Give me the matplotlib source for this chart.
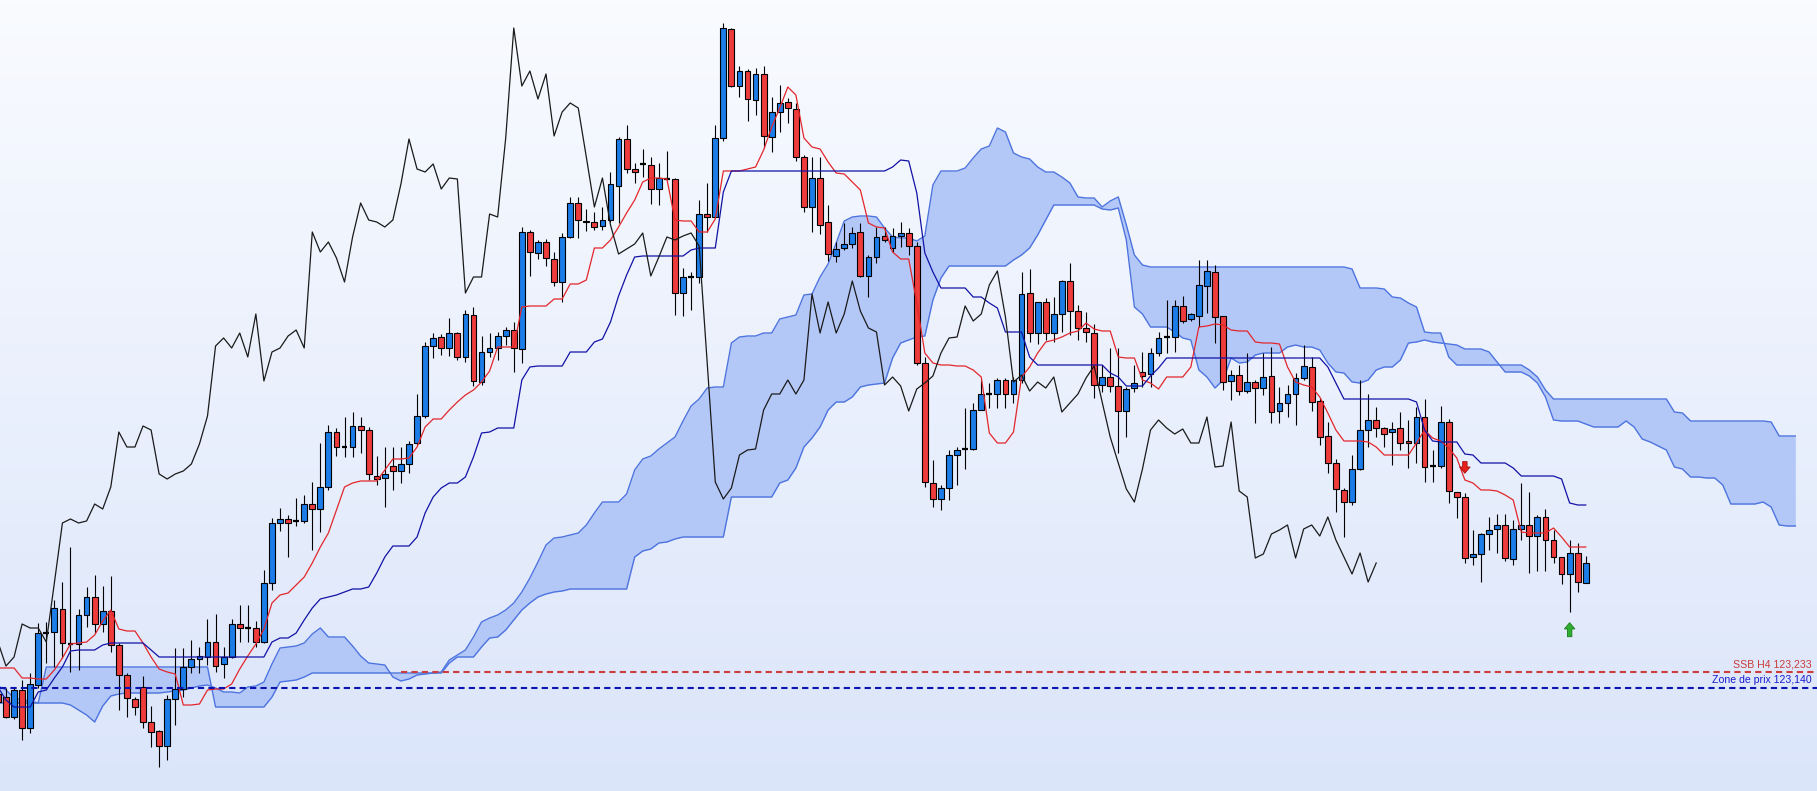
import numpy as np
import matplotlib
matplotlib.use("Agg")
import matplotlib.pyplot as plt
from matplotlib import transforms

# H4 candles (price)
opens = [
    123.101, 123.083, 122.963, 123.125, 122.897, 123.155, 123.467, 123.473, 123.611, 123.401,
    123.401, 123.575, 123.683, 123.521, 123.599, 123.395, 123.215, 123.071, 123.143, 122.933,
    122.879, 122.789, 123.071, 123.131, 123.263, 123.311, 123.323, 123.413, 123.281, 123.323,
    123.521, 123.497, 123.497, 123.413, 123.767, 124.127, 124.151, 124.139, 124.139, 124.241,
    124.211, 124.343, 124.673, 124.583, 124.583, 124.709, 124.685, 124.409, 124.397, 124.469,
    124.439, 124.481, 124.607, 124.769, 125.189, 125.243, 125.177, 125.267, 125.123, 125.375,
    124.973, 125.153, 125.177, 125.249, 125.285, 125.171, 125.873, 125.747, 125.813, 125.711,
    125.573, 125.843, 126.047, 125.939, 125.933, 125.909, 125.945, 126.149, 126.431, 126.251,
    126.281, 126.275, 126.131, 126.191, 126.191, 125.507, 125.603, 125.603, 125.981, 125.963,
    126.437, 127.091, 126.749, 126.839, 126.665, 126.821, 126.443, 126.593, 126.653, 126.611,
    126.323, 126.023, 126.197, 125.933, 125.729, 125.777, 125.801, 125.873, 125.609, 125.723,
    125.849, 125.777, 125.849, 125.867, 125.789, 125.087, 124.367, 124.271, 124.337, 124.535,
    124.571, 124.571, 124.805, 124.901, 124.901, 124.985, 124.901, 124.985, 125.507, 125.267,
    125.453, 125.267, 125.381, 125.579, 125.399, 125.297, 125.267, 124.955, 125.003, 124.949,
    124.799, 124.937, 125.033, 125.021, 125.147, 125.243, 125.243, 125.429, 125.351, 125.369,
    125.549, 125.633, 125.369, 124.979, 125.015, 124.919, 124.973, 124.937, 125.009, 124.799,
    124.847, 124.901, 124.997, 125.063, 124.859, 124.649, 124.487, 124.325, 124.253, 124.451,
    124.685, 124.745, 124.697, 124.673, 124.697, 124.619, 124.607, 124.763, 124.469, 124.469,
    124.733, 124.313, 124.283, 123.923, 123.941, 124.061, 124.091, 124.115, 123.911, 124.091,
    124.115, 124.049, 124.163, 124.025, 123.923, 123.821, 123.947, 123.767,
]
highs = [
    123.125, 123.137, 123.143, 123.185, 123.227, 123.527, 123.533, 123.665, 123.773, 123.983,
    123.611, 123.743, 123.815, 123.749, 123.809, 123.407, 123.227, 123.083, 123.209, 123.029,
    122.885, 123.095, 123.377, 123.377, 123.425, 123.383, 123.551, 123.581, 123.383, 123.551,
    123.635, 123.635, 123.539, 123.845, 124.157, 124.217, 124.175, 124.277, 124.295, 124.373,
    124.607, 124.715, 124.697, 124.763, 124.793, 124.763, 124.703, 124.529, 124.583, 124.583,
    124.583, 124.619, 124.901, 125.213, 125.267, 125.261, 125.357, 125.273, 125.405, 125.423,
    125.249, 125.267, 125.273, 125.303, 125.333, 125.903, 125.885, 125.825, 125.831, 125.753,
    125.867, 126.083, 126.083, 126.011, 125.993, 126.023, 126.233, 126.443, 126.515, 126.287,
    126.371, 126.323, 126.287, 126.359, 126.197, 125.657, 125.633, 126.065, 126.167, 126.515,
    127.127, 127.097, 126.869, 126.851, 126.857, 126.869, 126.683, 126.755, 126.677, 126.647,
    126.335, 126.323, 126.323, 126.035, 125.813, 125.927, 125.903, 125.927, 125.735, 125.903,
    125.903, 125.897, 125.933, 125.897, 125.813, 125.123, 124.505, 124.355, 124.565, 124.583,
    124.817, 124.847, 124.985, 124.967, 124.997, 124.997, 125.003, 125.633, 125.651, 125.453,
    125.477, 125.483, 125.585, 125.687, 125.435, 125.393, 125.321, 125.075, 125.177, 125.177,
    124.943, 125.075, 125.153, 125.177, 125.273, 125.465, 125.465, 125.489, 125.387, 125.705,
    125.705, 125.675, 125.369, 125.045, 125.075, 125.147, 124.985, 125.147, 125.183, 124.943,
    124.955, 125.027, 125.195, 125.123, 124.877, 124.733, 124.511, 124.337, 124.535, 124.985,
    124.901, 124.823, 124.703, 124.733, 124.793, 124.745, 124.823, 124.871, 124.565, 124.829,
    124.751, 124.313, 124.307, 124.085, 124.067, 124.163, 124.181, 124.181, 124.145, 124.367,
    124.313, 124.175, 124.211, 124.085, 123.923, 124.025, 124.007, 123.929,
]
lows = [
    123.017, 122.957, 122.951, 122.825, 122.867, 123.137, 123.287, 123.263, 123.317, 123.233,
    123.245, 123.503, 123.467, 123.473, 123.353, 123.005, 122.963, 122.975, 122.897, 122.783,
    122.663, 122.705, 122.915, 123.083, 123.227, 123.227, 123.275, 123.233, 123.197, 123.317,
    123.413, 123.413, 123.383, 123.407, 123.725, 124.079, 123.923, 124.109, 124.127, 123.965,
    124.073, 124.325, 124.529, 124.523, 124.523, 124.547, 124.385, 124.355, 124.223, 124.325,
    124.367, 124.427, 124.595, 124.757, 125.117, 125.135, 125.129, 125.105, 125.093, 124.949,
    124.955, 125.123, 125.105, 125.195, 125.033, 125.087, 125.609, 125.711, 125.669, 125.549,
    125.453, 125.837, 125.837, 125.879, 125.885, 125.885, 125.933, 125.927, 126.227, 126.167,
    126.203, 126.041, 126.035, 126.185, 125.375, 125.369, 125.405, 125.567, 125.873, 125.963,
    126.419, 126.743, 126.683, 126.539, 126.575, 126.377, 126.353, 126.473, 126.527, 126.299,
    125.993, 125.873, 125.861, 125.699, 125.693, 125.765, 125.777, 125.603, 125.483, 125.687,
    125.813, 125.753, 125.783, 125.735, 125.075, 124.343, 124.223, 124.205, 124.265, 124.355,
    124.451, 124.565, 124.805, 124.817, 124.817, 124.817, 124.847, 124.967, 125.213, 125.201,
    125.225, 125.213, 125.273, 125.255, 125.225, 125.213, 124.877, 124.913, 124.913, 124.547,
    124.643, 124.913, 124.943, 124.943, 125.129, 125.147, 125.153, 125.327, 125.339, 125.303,
    125.387, 125.207, 124.925, 124.865, 124.895, 124.907, 124.727, 124.895, 124.727, 124.727,
    124.763, 124.715, 124.985, 124.799, 124.595, 124.427, 124.193, 124.043, 124.235, 124.445,
    124.583, 124.643, 124.583, 124.475, 124.565, 124.457, 124.487, 124.373, 124.373, 124.457,
    124.247, 124.157, 123.887, 123.875, 123.773, 123.965, 123.947, 123.899, 123.875, 124.025,
    123.827, 123.839, 123.839, 123.887, 123.761, 123.593, 123.713, 123.767,
]
closes = [
    123.053, 122.963, 123.125, 122.897, 123.161, 123.467, 123.467, 123.617, 123.407, 123.401,
    123.575, 123.683, 123.521, 123.599, 123.395, 123.215, 123.077, 123.023, 122.933, 122.873,
    122.789, 123.071, 123.131, 123.263, 123.311, 123.329, 123.413, 123.269, 123.323, 123.521,
    123.497, 123.497, 123.413, 123.767, 124.127, 124.151, 124.127, 124.139, 124.241, 124.211,
    124.343, 124.673, 124.583, 124.583, 124.709, 124.685, 124.421, 124.391, 124.421, 124.439,
    124.481, 124.601, 124.769, 125.189, 125.237, 125.177, 125.267, 125.123, 125.381, 124.979,
    125.153, 125.177, 125.249, 125.285, 125.177, 125.873, 125.753, 125.813, 125.717, 125.573,
    125.843, 126.047, 125.945, 125.933, 125.903, 125.945, 126.161, 126.431, 126.251, 126.233,
    126.281, 126.131, 126.197, 126.191, 125.507, 125.603, 125.603, 125.981, 125.963, 126.437,
    127.097, 126.749, 126.839, 126.671, 126.821, 126.449, 126.593, 126.647, 126.617, 126.323,
    126.023, 126.197, 125.915, 125.741, 125.771, 125.801, 125.867, 125.609, 125.723, 125.843,
    125.825, 125.849, 125.867, 125.789, 125.087, 124.373, 124.271, 124.337, 124.535, 124.565,
    124.571, 124.805, 124.901, 124.901, 124.985, 124.901, 124.985, 125.501, 125.267, 125.453,
    125.267, 125.381, 125.579, 125.399, 125.297, 125.273, 124.955, 125.003, 124.949, 124.799,
    124.931, 124.967, 125.009, 125.147, 125.237, 125.243, 125.429, 125.339, 125.381, 125.555,
    125.639, 125.363, 124.973, 125.015, 124.919, 124.973, 124.937, 125.003, 124.793, 124.847,
    124.901, 124.997, 125.069, 124.853, 124.643, 124.487, 124.331, 124.253, 124.451, 124.685,
    124.745, 124.697, 124.661, 124.691, 124.607, 124.607, 124.763, 124.463, 124.469, 124.733,
    124.319, 124.283, 123.917, 123.941, 124.061, 124.085, 124.115, 123.917, 124.091, 124.115,
    124.049, 124.163, 124.025, 123.923, 123.821, 123.947, 123.773, 123.887,
]

# Ichimoku lines as drawn on the chart
tenkan = [
    123.257, 123.257, 123.257, 123.197, 123.197, 123.191, 123.191, 123.245, 123.317, 123.401,
    123.407, 123.413, 123.455, 123.539, 123.605, 123.491, 123.479, 123.479, 123.407, 123.323,
    123.251, 123.233, 123.221, 123.035, 123.035, 123.041, 123.125, 123.131, 123.131, 123.161,
    123.251, 123.329, 123.401, 123.491, 123.647, 123.695, 123.707, 123.755, 123.803, 123.887,
    123.983, 124.067, 124.205, 124.343, 124.367, 124.379, 124.379, 124.379, 124.445, 124.511,
    124.511, 124.517, 124.583, 124.703, 124.751, 124.751, 124.805, 124.853, 124.895, 124.925,
    124.973, 125.039, 125.183, 125.183, 125.183, 125.423, 125.429, 125.429, 125.429, 125.471,
    125.471, 125.561, 125.561, 125.585, 125.777, 125.777, 125.825, 125.903, 125.987, 126.065,
    126.173, 126.197, 126.197, 126.191, 125.945, 125.939, 125.939, 125.873, 125.873, 125.951,
    126.239, 126.239, 126.239, 126.251, 126.263, 126.365, 126.503, 126.617, 126.743, 126.695,
    126.437, 126.383, 126.371, 126.293, 126.227, 126.221, 126.173, 126.125, 125.927, 125.903,
    125.897, 125.753, 125.711, 125.711, 125.447, 125.147, 125.087, 125.075, 125.075, 125.069,
    125.069, 125.045, 125.003, 124.667, 124.607, 124.607, 124.673, 125.003, 125.063, 125.147,
    125.213, 125.225, 125.243, 125.267, 125.279, 125.327, 125.291, 125.279, 125.279, 125.123,
    125.117, 125.117, 124.985, 124.967, 124.931, 125.003, 125.003, 125.003, 125.063, 125.303,
    125.309, 125.321, 125.315, 125.285, 125.279, 125.279, 125.213, 125.207, 125.207, 125.201,
    125.063, 124.973, 124.955, 124.943, 124.883, 124.787, 124.685, 124.619, 124.619, 124.619,
    124.613, 124.583, 124.535, 124.535, 124.535, 124.535, 124.607, 124.685, 124.637, 124.619,
    124.577, 124.517, 124.385, 124.367, 124.325, 124.325, 124.319, 124.295, 124.265, 124.073,
    124.067, 124.067, 124.067, 124.097, 124.043, 123.983, 123.983, 123.983,
]
kijun = [
    123.143, 123.065, 123.023, 123.023, 123.023, 123.113, 123.125, 123.197, 123.263, 123.359,
    123.365, 123.365, 123.365, 123.395, 123.407, 123.407, 123.407, 123.407, 123.407, 123.365,
    123.323, 123.323, 123.323, 123.323, 123.323, 123.323, 123.323, 123.323, 123.323, 123.323,
    123.323, 123.323, 123.323, 123.323, 123.413, 123.437, 123.437, 123.467, 123.545, 123.617,
    123.671, 123.683, 123.695, 123.713, 123.731, 123.731, 123.743, 123.827, 123.923, 123.989,
    123.989, 123.989, 124.043, 124.187, 124.283, 124.337, 124.367, 124.367, 124.403, 124.523,
    124.667, 124.673, 124.697, 124.697, 124.697, 124.985, 125.063, 125.069, 125.069, 125.069,
    125.069, 125.153, 125.153, 125.153, 125.213, 125.231, 125.333, 125.489, 125.615, 125.723,
    125.729, 125.729, 125.729, 125.729, 125.729, 125.729, 125.765, 125.777, 125.777, 125.777,
    126.113, 126.239, 126.239, 126.239, 126.239, 126.239, 126.239, 126.239, 126.239, 126.239,
    126.239, 126.239, 126.239, 126.239, 126.239, 126.239, 126.239, 126.239, 126.239, 126.239,
    126.239, 126.263, 126.305, 126.299, 126.107, 125.747, 125.633, 125.537, 125.537, 125.537,
    125.537, 125.483, 125.483, 125.447, 125.417, 125.273, 125.273, 125.273, 125.123, 125.075,
    125.075, 125.075, 125.075, 125.075, 125.075, 125.075, 125.075, 125.075, 125.027, 125.003,
    124.949, 124.949, 124.949, 125.009, 125.057, 125.117, 125.117, 125.117, 125.117, 125.117,
    125.117, 125.117, 125.117, 125.117, 125.117, 125.117, 125.117, 125.117, 125.117, 125.117,
    125.117, 125.117, 125.117, 125.117, 125.117, 125.063, 124.967, 124.871, 124.871, 124.871,
    124.871, 124.871, 124.871, 124.871, 124.871, 124.871, 124.853, 124.685, 124.619, 124.613,
    124.613, 124.613, 124.541, 124.535, 124.487, 124.487, 124.487, 124.487, 124.457, 124.409,
    124.409, 124.409, 124.409, 124.409, 124.391, 124.247, 124.235, 124.235,
]
# cloud edges, already displaced 26 bars ahead (runs past the last candle)
span_a = [
    123.149, 123.125, 123.077, 123.065, 123.059, 123.047, 123.047, 123.047, 123.047, 123.035,
    123.005, 122.975, 122.933, 123.029, 123.089, 123.101, 123.107, 123.107, 123.107, 123.107,
    123.107, 123.113, 123.119, 123.125, 123.137, 123.149, 123.155, 123.137, 123.113, 123.113,
    123.107, 123.143, 123.149, 123.173, 123.281, 123.377, 123.383, 123.389, 123.407, 123.461,
    123.497, 123.443, 123.443, 123.443, 123.389, 123.329, 123.287, 123.281, 123.275, 123.203,
    123.179, 123.191, 123.215, 123.221, 123.227, 123.233, 123.305, 123.335, 123.365, 123.443,
    123.533, 123.557, 123.575, 123.605, 123.647, 123.713, 123.797, 123.893, 123.995, 124.037,
    124.043, 124.055, 124.067, 124.115, 124.187, 124.253, 124.253, 124.253, 124.301, 124.445,
    124.511, 124.529, 124.571, 124.607, 124.643, 124.739, 124.829, 124.871, 124.937, 124.943,
    124.943, 125.207, 125.243, 125.249, 125.249, 125.267, 125.267, 125.351, 125.363, 125.375,
    125.495, 125.501, 125.603, 125.681, 125.807, 125.939, 125.963, 125.969, 125.969, 125.963,
    125.897, 125.843, 125.837, 125.837, 125.819, 125.849, 126.155, 126.239, 126.239, 126.239,
    126.257, 126.317, 126.371, 126.389, 126.497, 126.473, 126.347, 126.323, 126.311, 126.263,
    126.233, 126.233, 126.203, 126.167, 126.083, 126.077, 126.077, 126.023, 126.059, 126.083,
    125.915, 125.735, 125.675, 125.663, 125.663, 125.663, 125.663, 125.663, 125.663, 125.663,
    125.663, 125.663, 125.663, 125.663, 125.663, 125.663, 125.663, 125.663, 125.663, 125.663,
    125.663, 125.663, 125.663, 125.663, 125.663, 125.663, 125.663, 125.663, 125.651, 125.537,
    125.537, 125.537, 125.531, 125.483, 125.477, 125.447, 125.423, 125.273, 125.267, 125.267,
    125.123, 125.075, 125.075, 125.075, 125.075, 125.075, 125.075, 125.075, 125.075, 125.075,
    125.045, 125.003, 124.925, 124.871, 124.871, 124.871, 124.871, 124.871, 124.871, 124.871,
    124.871, 124.871, 124.871, 124.871, 124.871, 124.871, 124.871, 124.871, 124.793, 124.787,
    124.739, 124.739, 124.739, 124.739, 124.739, 124.739, 124.739, 124.739, 124.739, 124.739,
    124.733, 124.649, 124.649, 124.649,
]
span_b = [
    123.047, 123.047, 123.047, 123.047, 123.047, 123.047, 123.263, 123.263, 123.263, 123.263,
    123.263, 123.263, 123.263, 123.263, 123.263, 123.263, 123.263, 123.263, 123.263, 123.263,
    123.263, 123.263, 123.263, 123.263, 123.263, 123.263, 123.263, 123.023, 123.023, 123.023,
    123.023, 123.023, 123.023, 123.023, 123.083, 123.173, 123.179, 123.185, 123.203, 123.227,
    123.227, 123.227, 123.227, 123.227, 123.227, 123.227, 123.227, 123.227, 123.227, 123.227,
    123.227, 123.227, 123.227, 123.227, 123.227, 123.227, 123.287, 123.323, 123.323, 123.323,
    123.383, 123.437, 123.443, 123.485, 123.545, 123.605, 123.647, 123.683, 123.701, 123.713,
    123.719, 123.731, 123.731, 123.731, 123.731, 123.731, 123.731, 123.731, 123.731, 123.923,
    123.959, 123.971, 124.007, 124.013, 124.031, 124.043, 124.043, 124.043, 124.043, 124.043,
    124.043, 124.283, 124.283, 124.283, 124.283, 124.283, 124.283, 124.367, 124.385, 124.457,
    124.583, 124.637, 124.703, 124.805, 124.853, 124.853, 124.883, 124.943, 124.955, 124.961,
    124.967, 125.117, 125.207, 125.225, 125.243, 125.249, 125.465, 125.597, 125.669, 125.669,
    125.669, 125.669, 125.669, 125.669, 125.669, 125.669, 125.705, 125.735, 125.777, 125.855,
    125.945, 126.035, 126.035, 126.035, 126.035, 126.035, 126.035, 126.011, 126.005, 126.017,
    125.825, 125.423, 125.381, 125.303, 125.303, 125.303, 125.273, 125.237, 125.225, 125.045,
    125.003, 124.937, 124.985, 125.117, 125.087, 125.093, 125.135, 125.147, 125.147, 125.147,
    125.183, 125.195, 125.183, 125.183, 125.165, 125.087, 125.033, 125.027, 124.973, 124.967,
    124.985, 125.045, 125.063, 125.063, 125.105, 125.207, 125.213, 125.225, 125.213, 125.207,
    125.201, 125.195, 125.171, 125.171, 125.171, 125.153, 125.093, 125.033, 125.033, 125.033,
    125.009, 124.967, 124.883, 124.745, 124.739, 124.739, 124.739, 124.721, 124.703, 124.703,
    124.703, 124.703, 124.739, 124.703, 124.631, 124.613, 124.589, 124.565, 124.463, 124.451,
    124.403, 124.403, 124.397, 124.397, 124.355, 124.241, 124.241, 124.241, 124.241, 124.253,
    124.223, 124.115, 124.109, 124.109,
]
CHIKOU_SHIFT = 26

# levels and signals
ssb_level = 123.233
zone_level = 123.140
ssb_label = "SSB H4 123,233"
zone_label = "Zone de prix 123,140"
ssb_start = 50          # bar where the SSB line starts
sell_bar = 182
buy_bar = 195

BULL = "#1c7ce8"
BEAR = "#ee3b3b"

opens, highs, lows, closes = map(np.array, (opens, highs, lows, closes))
x = np.arange(len(closes))

fig = plt.figure(figsize=(18.17, 7.91), dpi=100)
ax = fig.add_axes([0, 0, 1, 1])
ax.set_xlim(0.256, 225.69)
ax.set_ylim(122.519, 127.265)
ax.axis("off")

# background gradient
grad = np.linspace(0, 1, 256).reshape(-1, 1)
from matplotlib.colors import LinearSegmentedColormap
bg = LinearSegmentedColormap.from_list("bg", ["#f9fbff", "#dbe5fa"])
ax.imshow(grad, cmap=bg, aspect="auto", extent=(0, 1, 0, 1),
          transform=ax.transAxes, origin="upper", zorder=0)

# kumo
xc = np.arange(len(span_a))
ax.fill_between(xc, span_a, span_b, color="#b4c8f8", lw=0, zorder=1)
ax.plot(xc, span_a, color="#4d74df", lw=1.0, zorder=1.5)
ax.plot(xc, span_b, color="#4d74df", lw=1.0, zorder=1.5)

# candles
ax.vlines(x, lows, highs, color="black", lw=0.8, zorder=2)
doji = np.isclose(opens, closes)
up = (closes > opens) & ~doji
dn = (closes < opens) & ~doji
w = 0.72
ax.bar(x[up], closes[up] - opens[up], bottom=opens[up], width=w,
       color=BULL, edgecolor="black", lw=0.8, zorder=3)
ax.bar(x[dn], closes[dn] - opens[dn], bottom=opens[dn], width=w,
       color=BEAR, edgecolor="black", lw=0.8, zorder=3)
ax.hlines(opens[doji], x[doji] - w / 2, x[doji] + w / 2, color="black", lw=1.6, zorder=3)

# tenkan / kijun / chikou
ax.plot(x, tenkan, color="#e3262b", lw=0.9, zorder=4)
ax.plot(x, kijun, color="#1212a6", lw=0.9, zorder=4)
ax.plot(x[CHIKOU_SHIFT:] - CHIKOU_SHIFT, closes[CHIKOU_SHIFT:], color="#1a1a1a", lw=0.9, zorder=4)

# horizontal levels
right = ax.get_xlim()[1]
ax.plot([ssb_start, right], [ssb_level, ssb_level], color="#cc3d3d", lw=1.5,
        ls=(0, (3, 2)), zorder=5)
ax.plot([ax.get_xlim()[0], right], [zone_level, zone_level], color="#0c14b0", lw=1.5,
        ls=(0, (3, 2)), zorder=5)

lbl = transforms.blended_transform_factory(ax.transAxes, ax.transData)
lbl = transforms.offset_copy(lbl, fig=fig, y=3, units="points")
fam = ["Liberation Sans", "DejaVu Sans"]
ax.text(0.997, ssb_level, ssb_label, transform=lbl, ha="right", va="baseline",
        fontsize=7.6, color="#c83a3a", family=fam, zorder=6)
ax.text(0.997, zone_level, zone_label, transform=lbl, ha="right", va="baseline",
        fontsize=7.6, color="#1a1acc", family=fam, zorder=6)

# signal arrows
def arrow(bar, price, tip_pt, tail_pt, color, edge):
    tip = transforms.offset_copy(ax.transData, fig=fig, y=tip_pt, units="points")
    tail = transforms.offset_copy(ax.transData, fig=fig, y=tail_pt, units="points")
    ax.annotate("", xy=(bar, price), xycoords=tip, xytext=(bar, price), textcoords=tail,
                arrowprops=dict(arrowstyle="simple,head_width=7.5,head_length=4.5,tail_width=3.2",
                                mutation_scale=1, fc=color, ec=edge, lw=0.6,
                                shrinkA=0, shrinkB=0),
                zorder=6)

arrow(sell_bar, highs[sell_bar], 14.2, 22.6, "#e8201c", "#a01010")
arrow(buy_bar, lows[buy_bar], -7.7, -17.8, "#2fae2f", "#1a7a1a")

fig.savefig("out.png", dpi=100)
